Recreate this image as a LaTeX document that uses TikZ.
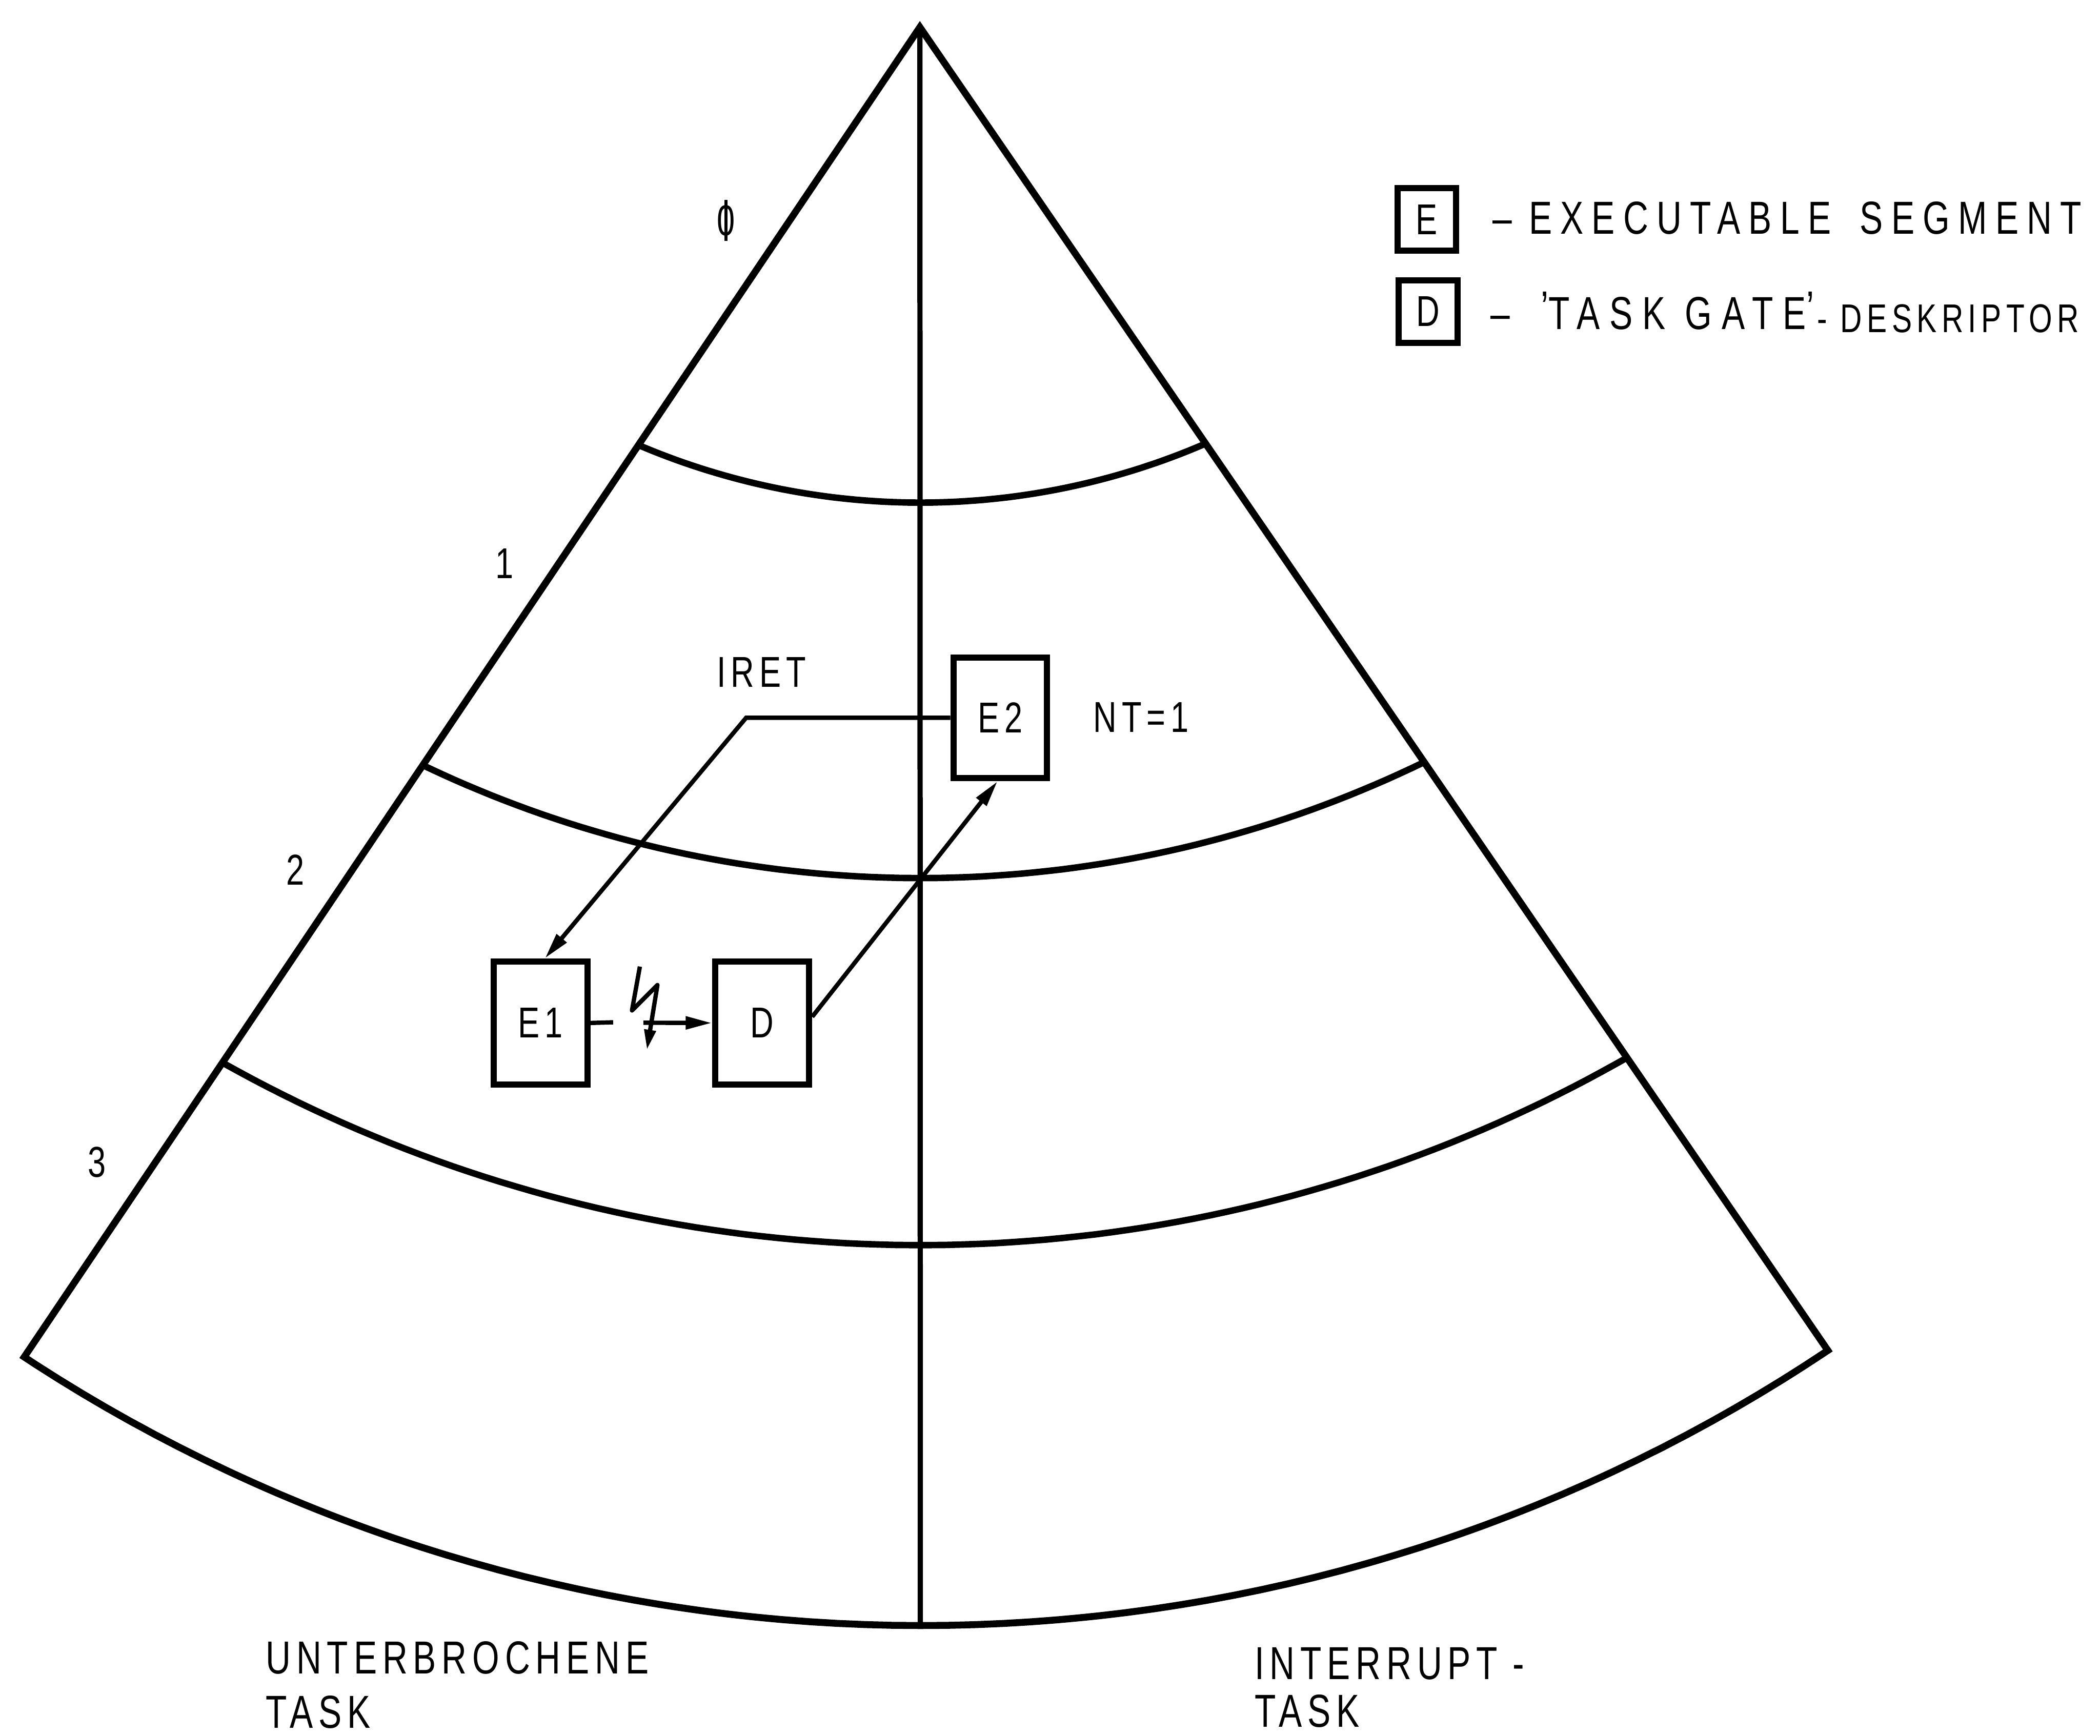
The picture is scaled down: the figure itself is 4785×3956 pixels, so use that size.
\documentclass[tikz,border=0pt]{standalone}
\usepackage{fontspec}
\setmainfont{Liberation Sans}[FakeStretch=0.75]
\newfontfamily\lblfont{Liberation Sans}[FakeStretch=0.75,LetterSpace=12]
\newfontfamily\legfont{Liberation Sans}[FakeStretch=0.75,LetterSpace=18]
\newfontfamily\gatefont{Liberation Sans}[FakeStretch=0.75,LetterSpace=21]
\usetikzlibrary{arrows.meta,calc}

% zero with a vertical stroke through it (ring level 0)
\newcommand{\zerostroke}{\ooalign{\hfil\rule[-0.12em]{0.07em}{0.95em}\hfil\cr 0\cr}}
% raised tick used as quotation mark
\newcommand{\tick}{\raisebox{0.12em}{’}}

\tikzset{
  sector/.style={line width=4.5pt, line join=miter},
  ring/.style={line width=4.2pt},
  axisline/.style={line width=3.4pt},
  seg/.style={draw, line width=4pt, inner sep=0pt, minimum width=2.14cm,
    minimum height=2.8cm, font=\lblfont\fontsize{28}{30}\selectfont},
  legbox/.style={draw, line width=4pt, inner sep=0pt, minimum width=1.34cm,
    minimum height=1.42cm, font=\lblfont\fontsize{28}{30}\selectfont},
  lab/.style={inner sep=0pt, anchor=base, font=\lblfont\fontsize{28}{30}\selectfont},
  biglab/.style={inner sep=0pt, anchor=base west, font=\lblfont\fontsize{30}{32}\selectfont},
  leg/.style={inner sep=0pt, anchor=base west, font=\legfont\fontsize{30}{32}\selectfont},
  leggate/.style={inner sep=0pt, anchor=base west, font=\gatefont\fontsize{30}{32}\selectfont},
  legsmall/.style={inner sep=0pt, anchor=base west, font=\lblfont\fontsize{26}{28}\selectfont},
  link/.style={line width=2.8pt},
  arrowto/.style={-{Triangle[length=0.6cm,width=0.28cm]}},
  boltarrow/.style={-{Triangle[length=0.46cm,width=0.25cm]}, line join=round},
}

\begin{document}
\begin{tikzpicture}[x=0.01cm, y=-0.01cm]
\useasboundingbox (0,0) rectangle (4785,3956);

% ---- sector outline ----
\coordinate (apex) at (2096,62);
\coordinate (cornerL) at (55,3093);
\coordinate (cornerR) at (4165,3078);
\coordinate (bottom) at (2097,3705);

\draw[sector] (apex)
  -- plot[domain=-33.34:33.76, samples=140]
     ({2098.7+3718.3*sin(\x)},{-13.3+3718.3*cos(\x)}) -- cycle;

% ---- ring boundaries, cut at the sector edges ----
\begin{scope}
  \clip (apex) -- ($(apex)!1.3!(cornerL)$) -- ($(apex)!1.3!(cornerR)$) -- cycle;
  \draw[ring] plot[domain=-40:40, samples=120] ({2097+1638.6*sin(\x)},{-493+1638.6*cos(\x)});
  \draw[ring] plot[domain=-40:40, samples=120] ({2097+2626.4*sin(\x)},{-625+2626.4*cos(\x)});
  \draw[ring] plot[domain=-40:40, samples=120] ({2097+3248*sin(\x)},{-410+3248*cos(\x)});
\end{scope}

% ---- dividing line between the two tasks ----
\draw[axisline] (apex) -- (bottom);

% ---- ring numbers ----
\node[lab] (lvl0) at (1654,537) {\zerostroke};
\node[lab] (lvl1) at (1150,1318) {1};
\node[lab] (lvl2) at (673,2017) {2};
\node[lab] (lvl3) at (221,2683) {3};

% ---- segments and descriptor ----
\node[seg] (E1) at (1231.5,2331.5) {E1};
\node[seg] (D) at (1736.5,2331.5) {D};
\node[seg, minimum width=2.13cm, minimum height=2.75cm] (E2) at (2279,1636) {E2};

\node[lab] (iret) at (1735,1566) {IRET};
\node[lab] (nt) at (2600,1669) {NT=1};

% IRET return path
\coordinate (iretbend) at (1700,1636);
\draw[link, arrowto] (E2.west) -- (iretbend) -- ($(E1.north)+(10,0)$);

% task switch through the gate
\draw[link, arrowto] ($(D.east)+(0,-14)$) -- ($(E2.south)+(-6,0)$);

% interrupt: stub, lightning bolt, arrow into the gate
\coordinate (stub) at (1397,2330);
\draw[link] (E1.east) -- (stub);
\coordinate (boltA) at (1458,2203);
\coordinate (boltB) at (1440,2303);
\coordinate (boltC) at (1498,2245);
\coordinate (boltD) at (1474,2393);
\draw[link, boltarrow] (boltA) -- (boltB) -- (boltC) -- (boltD);
\coordinate (gatein) at (1466,2331);
\draw[link, arrowto] (gatein) -- (D.west);

% ---- legend ----
\node[legbox] (legE) at (3251,500) {E};
\node[legbox] (legD) at (3254,710) {D};
\node[leg] (legEtext) at (3401,533) {–\hspace{0.38cm}EXECUTABLE\hspace{0.25cm} SEGMENT};
\node[leggate] (legDtext) at (3396,750) {–\hspace{0.7cm}\tick TASK GATE\tick};
\node[legsmall] (legDtext2) at (4140,757) {- DESKRIPTOR};

% ---- task captions ----
\node[biglab] (capL1) at (605,3815) {UNTERBROCHENE};
\node[biglab] (capL2) at (605,3938) {TASK};
\node[biglab] (capR1) at (2858,3827) {INTERRUPT -};
\node[biglab] (capR2) at (2858,3936) {TASK};
\end{tikzpicture}
\end{document}
